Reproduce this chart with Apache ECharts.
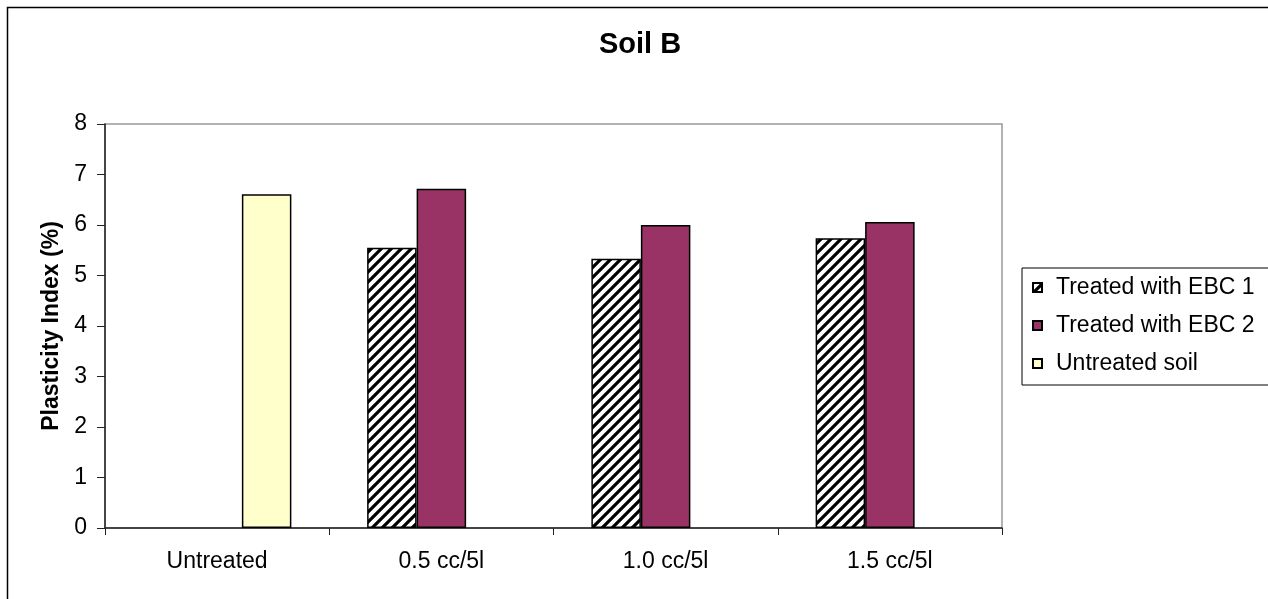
<!DOCTYPE html>
<html>
<head>
<meta charset="utf-8">
<title>Soil B</title>
<script src="https://cdn.jsdelivr.net/npm/echarts@6/dist/echarts.min.js"></script>
<style>
  html, body { margin: 0; padding: 0; background: #fff; }
  #chart { width: 1268px; height: 599px; }
</style>
</head>
<body>
<div id="chart"></div>
<script>
// Categories and plasticity index values (%)
const categories = ['Untreated', '0.5 cc/5l', '1.0 cc/5l', '1.5 cc/5l'];
const ebc1Values = [null, 5.55, 5.33, 5.74];
const ebc2Values = [null, 6.72, 6.00, 6.06];
const untreatedValues = [6.61, null, null, null];
const seriesNames = ['Treated with EBC 1', 'Treated with EBC 2', 'Untreated soil'];
const yTicks = { min: 0, max: 8, interval: 1 };

const FONT = 'Arial, "Liberation Sans", sans-serif';

// Diagonal hatch fill for the EBC 1 bars
function makeHatch() {
  const c = document.createElement('canvas');
  const s = 10;
  c.width = s; c.height = s;
  const g = c.getContext('2d');
  g.fillStyle = '#fff';
  g.fillRect(0, 0, s, s);
  g.strokeStyle = '#000';
  g.lineWidth = 3.2;
  g.beginPath();
  g.moveTo(-2, s + 2); g.lineTo(s + 2, -2);
  g.moveTo(-2, 2); g.lineTo(2, -2);
  g.moveTo(s - 2, s + 2); g.lineTo(s + 2, s - 2);
  g.stroke();
  return c;
}

const chart = echarts.init(document.getElementById('chart'), null, { renderer: 'canvas' });

const barCommon = {
  type: 'bar',
  barWidth: 49.5,
  barGap: '0%',
  animation: false
};

chart.setOption({
  backgroundColor: '#fff',
  animation: false,
  title: {
    text: 'Soil B',
    left: 599,
    top: 30,
    padding: 0,
    textStyle: { fontFamily: FONT, fontSize: 29, fontWeight: 'bold', color: '#000' }
  },
  graphic: [{
    type: 'rect',
    silent: true,
    shape: { x: 7.5, y: 7.5, width: 1400, height: 800 },
    style: { fill: null, stroke: '#000', lineWidth: 1.5 }
  }],
  legend: {
    orient: 'vertical',
    left: 1022,
    top: 268,
    padding: [8, 14, 10, 10],
    itemGap: 15,
    itemWidth: 9,
    itemHeight: 9,
    icon: 'rect',
    borderColor: '#000',
    borderWidth: 1,
    backgroundColor: '#fff',
    data: seriesNames,
    textStyle: {
      fontFamily: FONT, fontSize: 23, color: '#000', lineHeight: 23,
      padding: [0, 0, 0, 9]
    }
  },
  grid: {
    left: 105, top: 124, right: 266, bottom: 71,
    show: true, borderColor: '#999', borderWidth: 1.5, backgroundColor: '#fff'
  },
  xAxis: {
    type: 'category',
    data: categories,
    boundaryGap: true,
    axisLine: { lineStyle: { color: '#222', width: 1.5 } },
    axisTick: { show: true, length: 7, interval: 0, lineStyle: { color: '#222', width: 1 } },
    axisLabel: { margin: 22, fontFamily: FONT, fontSize: 23, color: '#000', interval: 0 },
    splitLine: { show: false }
  },
  yAxis: {
    type: 'value',
    min: yTicks.min, max: yTicks.max, interval: yTicks.interval,
    name: 'Plasticity Index (%)',
    nameLocation: 'middle',
    nameGap: 40,
    nameTextStyle: { fontFamily: FONT, fontSize: 23, fontWeight: 'bold', color: '#000' },
    axisLine: { show: true, lineStyle: { color: '#222', width: 1.5 } },
    axisTick: { show: true, inside: false, length: 8, lineStyle: { color: '#222', width: 1 } },
    axisLabel: { margin: 18, fontFamily: FONT, fontSize: 23, color: '#000' },
    splitLine: { show: false }
  },
  series: [
    Object.assign({}, barCommon, {
      name: seriesNames[0],
      data: ebc1Values,
      itemStyle: { color: { image: makeHatch(), repeat: 'repeat' }, borderColor: '#000', borderWidth: 1.5 }
    }),
    Object.assign({}, barCommon, {
      name: seriesNames[1],
      data: ebc2Values,
      itemStyle: { color: '#993366', borderColor: '#000', borderWidth: 1.5 }
    }),
    Object.assign({}, barCommon, {
      name: seriesNames[2],
      data: untreatedValues,
      itemStyle: { color: '#FFFFCC', borderColor: '#000', borderWidth: 1.5 }
    })
  ]
});
</script>
</body>
</html>
